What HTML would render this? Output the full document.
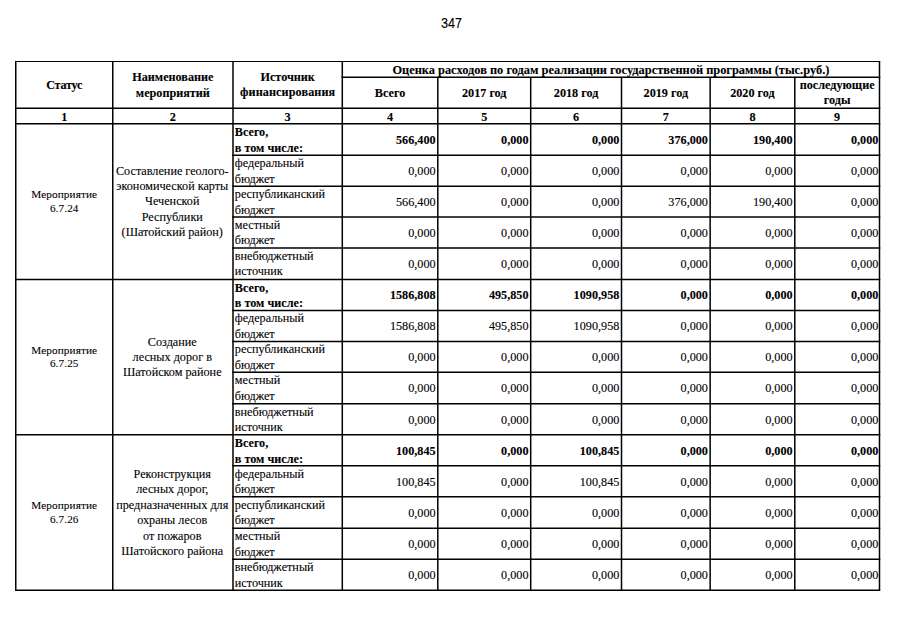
<!DOCTYPE html>
<html><head><meta charset="utf-8"><style>
html,body{margin:0;padding:0;background:#fff;}
body{width:905px;height:640px;position:relative;overflow:hidden;font-family:"Liberation Serif","Noto Serif CJK SC",serif;color:#000;-webkit-text-stroke:0.1px #000;}
svg{position:absolute;left:0;top:0;}
.t{position:absolute;white-space:nowrap;line-height:20px;height:20px;font-size:12.2px;}
.b{font-weight:bold;}
.ot{font-size:12.4px;}
.m{font-size:11.2px;letter-spacing:0.12px;}
.pn{position:absolute;left:441.2px;top:15.2px;font-family:"Liberation Sans",sans-serif;font-size:14px;line-height:16px;transform:scaleX(0.9);transform-origin:0 0;}
</style></head><body>
<div class="pn">347</div>
<svg width="905" height="640" viewBox="0 0 905 640"><g stroke="#000" stroke-width="1.5" fill="none">
<line x1="15.00" y1="61.50" x2="880.25" y2="61.50" stroke-width="1.1"/>
<line x1="341.55" y1="77.20" x2="880.25" y2="77.20"/>
<line x1="15.00" y1="108.20" x2="880.25" y2="108.20"/>
<line x1="15.00" y1="123.70" x2="880.25" y2="123.70"/>
<line x1="232.25" y1="155.20" x2="880.25" y2="155.20"/>
<line x1="232.25" y1="186.20" x2="880.25" y2="186.20"/>
<line x1="232.25" y1="217.00" x2="880.25" y2="217.00"/>
<line x1="232.25" y1="248.00" x2="880.25" y2="248.00"/>
<line x1="15.00" y1="279.50" x2="880.25" y2="279.50"/>
<line x1="232.25" y1="310.50" x2="880.25" y2="310.50"/>
<line x1="232.25" y1="341.50" x2="880.25" y2="341.50"/>
<line x1="232.25" y1="372.30" x2="880.25" y2="372.30"/>
<line x1="232.25" y1="403.80" x2="880.25" y2="403.80"/>
<line x1="15.00" y1="434.80" x2="880.25" y2="434.80"/>
<line x1="232.25" y1="465.80" x2="880.25" y2="465.80"/>
<line x1="232.25" y1="496.80" x2="880.25" y2="496.80"/>
<line x1="232.25" y1="528.25" x2="880.25" y2="528.25"/>
<line x1="232.25" y1="559.25" x2="880.25" y2="559.25"/>
<line x1="15.00" y1="590.25" x2="880.25" y2="590.25"/>
<line x1="15.75" y1="61.50" x2="15.75" y2="590.25"/>
<line x1="112.75" y1="61.50" x2="112.75" y2="590.25"/>
<line x1="233.00" y1="61.50" x2="233.00" y2="590.25"/>
<line x1="342.30" y1="61.50" x2="342.30" y2="590.25"/>
<line x1="437.80" y1="77.20" x2="437.80" y2="590.25"/>
<line x1="530.70" y1="77.20" x2="530.70" y2="590.25"/>
<line x1="621.50" y1="77.20" x2="621.50" y2="590.25"/>
<line x1="710.15" y1="77.20" x2="710.15" y2="590.25"/>
<line x1="794.80" y1="77.20" x2="794.80" y2="590.25"/>
<line x1="879.50" y1="61.50" x2="879.50" y2="590.25"/>
</g></svg>
<div class="t b" style="top:74.70px;left:15.75px;width:97.00px;text-align:center"><span style="letter-spacing:-0.25px">Статус</span></div>
<div class="t b" style="top:67.00px;left:112.75px;width:120.25px;text-align:center">Наименование</div>
<div class="t b" style="top:82.70px;left:112.75px;width:120.25px;text-align:center">мероприятий</div>
<div class="t b" style="top:66.75px;left:233.00px;width:109.30px;text-align:center">Источник</div>
<div class="t b" style="top:82.25px;left:233.00px;width:109.30px;text-align:center"><span style="letter-spacing:0.1px">финансирования</span></div>
<div class="t b ot" style="top:59.60px;left:342.30px;width:537.20px;text-align:center">Оценка расходов по годам реализации государственной программы (тыс.руб.)</div>
<div class="t b" style="top:82.80px;left:342.30px;width:95.50px;text-align:center">Всего</div>
<div class="t b" style="top:82.80px;left:437.80px;width:92.90px;text-align:center">2017 год</div>
<div class="t b" style="top:82.80px;left:530.70px;width:90.80px;text-align:center">2018 год</div>
<div class="t b" style="top:82.80px;left:621.50px;width:88.65px;text-align:center">2019 год</div>
<div class="t b" style="top:82.80px;left:710.15px;width:84.65px;text-align:center">2020 год</div>
<div class="t b" style="top:75.20px;left:794.80px;width:84.70px;text-align:center">последующие</div>
<div class="t b" style="top:90.30px;left:794.80px;width:84.70px;text-align:center">годы</div>
<div class="t b" style="top:106.60px;left:15.75px;width:97.00px;text-align:center">1</div>
<div class="t b" style="top:106.60px;left:112.75px;width:120.25px;text-align:center">2</div>
<div class="t b" style="top:106.60px;left:233.00px;width:109.30px;text-align:center">3</div>
<div class="t b" style="top:106.60px;left:342.30px;width:95.50px;text-align:center">4</div>
<div class="t b" style="top:106.60px;left:437.80px;width:92.90px;text-align:center">5</div>
<div class="t b" style="top:106.60px;left:530.70px;width:90.80px;text-align:center">6</div>
<div class="t b" style="top:106.60px;left:621.50px;width:88.65px;text-align:center">7</div>
<div class="t b" style="top:106.60px;left:710.15px;width:84.65px;text-align:center">8</div>
<div class="t b" style="top:106.60px;left:794.80px;width:84.70px;text-align:center">9</div>
<div class="t m" style="top:184.20px;left:15.75px;width:97.00px;text-align:center">Мероприятие</div>
<div class="t m" style="top:197.70px;left:15.75px;width:97.00px;text-align:center">6.7.24</div>
<div class="t r" style="top:160.84px;left:112.15px;width:120.25px;text-align:center">Составление геолого-</div>
<div class="t r" style="top:176.14px;left:112.15px;width:120.25px;text-align:center">экономической карты</div>
<div class="t r" style="top:191.44px;left:112.15px;width:120.25px;text-align:center">Чеченской</div>
<div class="t r" style="top:206.74px;left:112.15px;width:120.25px;text-align:center">Республики</div>
<div class="t r" style="top:222.04px;left:112.15px;width:120.25px;text-align:center">(Шатойский район)</div>
<div class="t b" style="top:122.00px;left:234.80px">Всего,</div>
<div class="t b" style="top:137.50px;left:234.80px">в том числе:</div>
<div class="t b" style="top:129.65px;right:469.40px;text-align:right">566,400</div>
<div class="t b" style="top:129.65px;right:376.50px;text-align:right">0,000</div>
<div class="t b" style="top:129.65px;right:285.70px;text-align:right">0,000</div>
<div class="t b" style="top:129.65px;right:197.05px;text-align:right">376,000</div>
<div class="t b" style="top:129.65px;right:112.40px;text-align:right">190,400</div>
<div class="t b" style="top:129.65px;right:26.70px;text-align:right">0,000</div>
<div class="t r" style="top:153.05px;left:234.80px">федеральный</div>
<div class="t r" style="top:168.55px;left:234.80px">бюджет</div>
<div class="t r" style="top:160.90px;right:469.40px;text-align:right">0,000</div>
<div class="t r" style="top:160.90px;right:376.50px;text-align:right">0,000</div>
<div class="t r" style="top:160.90px;right:285.70px;text-align:right">0,000</div>
<div class="t r" style="top:160.90px;right:197.05px;text-align:right">0,000</div>
<div class="t r" style="top:160.90px;right:112.40px;text-align:right">0,000</div>
<div class="t r" style="top:160.90px;right:26.70px;text-align:right">0,000</div>
<div class="t r" style="top:184.05px;left:234.80px">республиканский</div>
<div class="t r" style="top:199.55px;left:234.80px">бюджет</div>
<div class="t r" style="top:191.80px;right:469.40px;text-align:right">566,400</div>
<div class="t r" style="top:191.80px;right:376.50px;text-align:right">0,000</div>
<div class="t r" style="top:191.80px;right:285.70px;text-align:right">0,000</div>
<div class="t r" style="top:191.80px;right:197.05px;text-align:right">376,000</div>
<div class="t r" style="top:191.80px;right:112.40px;text-align:right">190,400</div>
<div class="t r" style="top:191.80px;right:26.70px;text-align:right">0,000</div>
<div class="t r" style="top:214.85px;left:234.80px">местный</div>
<div class="t r" style="top:230.35px;left:234.80px">бюджет</div>
<div class="t r" style="top:222.70px;right:469.40px;text-align:right">0,000</div>
<div class="t r" style="top:222.70px;right:376.50px;text-align:right">0,000</div>
<div class="t r" style="top:222.70px;right:285.70px;text-align:right">0,000</div>
<div class="t r" style="top:222.70px;right:197.05px;text-align:right">0,000</div>
<div class="t r" style="top:222.70px;right:112.40px;text-align:right">0,000</div>
<div class="t r" style="top:222.70px;right:26.70px;text-align:right">0,000</div>
<div class="t r" style="top:245.85px;left:234.80px">внебюджетный</div>
<div class="t r" style="top:261.35px;left:234.80px">источник</div>
<div class="t r" style="top:253.95px;right:469.40px;text-align:right">0,000</div>
<div class="t r" style="top:253.95px;right:376.50px;text-align:right">0,000</div>
<div class="t r" style="top:253.95px;right:285.70px;text-align:right">0,000</div>
<div class="t r" style="top:253.95px;right:197.05px;text-align:right">0,000</div>
<div class="t r" style="top:253.95px;right:112.40px;text-align:right">0,000</div>
<div class="t r" style="top:253.95px;right:26.70px;text-align:right">0,000</div>
<div class="t m" style="top:339.75px;left:15.75px;width:97.00px;text-align:center">Мероприятие</div>
<div class="t m" style="top:353.25px;left:15.75px;width:97.00px;text-align:center">6.7.25</div>
<div class="t r" style="top:331.55px;left:112.15px;width:120.25px;text-align:center">Создание</div>
<div class="t r" style="top:346.95px;left:112.15px;width:120.25px;text-align:center">лесных дорог в</div>
<div class="t r" style="top:362.35px;left:112.15px;width:120.25px;text-align:center">Шатойском районе</div>
<div class="t b" style="top:277.80px;left:234.80px">Всего,</div>
<div class="t b" style="top:293.30px;left:234.80px">в том числе:</div>
<div class="t b" style="top:285.20px;right:469.40px;text-align:right">1586,808</div>
<div class="t b" style="top:285.20px;right:376.50px;text-align:right">495,850</div>
<div class="t b" style="top:285.20px;right:285.70px;text-align:right">1090,958</div>
<div class="t b" style="top:285.20px;right:197.05px;text-align:right">0,000</div>
<div class="t b" style="top:285.20px;right:112.40px;text-align:right">0,000</div>
<div class="t b" style="top:285.20px;right:26.70px;text-align:right">0,000</div>
<div class="t r" style="top:308.35px;left:234.80px">федеральный</div>
<div class="t r" style="top:323.85px;left:234.80px">бюджет</div>
<div class="t r" style="top:316.20px;right:469.40px;text-align:right">1586,808</div>
<div class="t r" style="top:316.20px;right:376.50px;text-align:right">495,850</div>
<div class="t r" style="top:316.20px;right:285.70px;text-align:right">1090,958</div>
<div class="t r" style="top:316.20px;right:197.05px;text-align:right">0,000</div>
<div class="t r" style="top:316.20px;right:112.40px;text-align:right">0,000</div>
<div class="t r" style="top:316.20px;right:26.70px;text-align:right">0,000</div>
<div class="t r" style="top:339.35px;left:234.80px">республиканский</div>
<div class="t r" style="top:354.85px;left:234.80px">бюджет</div>
<div class="t r" style="top:347.10px;right:469.40px;text-align:right">0,000</div>
<div class="t r" style="top:347.10px;right:376.50px;text-align:right">0,000</div>
<div class="t r" style="top:347.10px;right:285.70px;text-align:right">0,000</div>
<div class="t r" style="top:347.10px;right:197.05px;text-align:right">0,000</div>
<div class="t r" style="top:347.10px;right:112.40px;text-align:right">0,000</div>
<div class="t r" style="top:347.10px;right:26.70px;text-align:right">0,000</div>
<div class="t r" style="top:370.15px;left:234.80px">местный</div>
<div class="t r" style="top:385.65px;left:234.80px">бюджет</div>
<div class="t r" style="top:378.25px;right:469.40px;text-align:right">0,000</div>
<div class="t r" style="top:378.25px;right:376.50px;text-align:right">0,000</div>
<div class="t r" style="top:378.25px;right:285.70px;text-align:right">0,000</div>
<div class="t r" style="top:378.25px;right:197.05px;text-align:right">0,000</div>
<div class="t r" style="top:378.25px;right:112.40px;text-align:right">0,000</div>
<div class="t r" style="top:378.25px;right:26.70px;text-align:right">0,000</div>
<div class="t r" style="top:401.65px;left:234.80px">внебюджетный</div>
<div class="t r" style="top:417.15px;left:234.80px">источник</div>
<div class="t r" style="top:409.50px;right:469.40px;text-align:right">0,000</div>
<div class="t r" style="top:409.50px;right:376.50px;text-align:right">0,000</div>
<div class="t r" style="top:409.50px;right:285.70px;text-align:right">0,000</div>
<div class="t r" style="top:409.50px;right:197.05px;text-align:right">0,000</div>
<div class="t r" style="top:409.50px;right:112.40px;text-align:right">0,000</div>
<div class="t r" style="top:409.50px;right:26.70px;text-align:right">0,000</div>
<div class="t m" style="top:495.12px;left:15.75px;width:97.00px;text-align:center">Мероприятие</div>
<div class="t m" style="top:508.62px;left:15.75px;width:97.00px;text-align:center">6.7.26</div>
<div class="t r" style="top:463.67px;left:112.15px;width:120.25px;text-align:center">Реконструкция</div>
<div class="t r" style="top:479.21px;left:112.15px;width:120.25px;text-align:center">лесных дорог,</div>
<div class="t r" style="top:494.75px;left:112.15px;width:120.25px;text-align:center">предназначенных для</div>
<div class="t r" style="top:510.29px;left:112.15px;width:120.25px;text-align:center">охраны лесов</div>
<div class="t r" style="top:525.83px;left:112.15px;width:120.25px;text-align:center">от пожаров</div>
<div class="t r" style="top:541.38px;left:112.15px;width:120.25px;text-align:center">Шатойского района</div>
<div class="t b" style="top:433.10px;left:234.80px">Всего,</div>
<div class="t b" style="top:448.60px;left:234.80px">в том числе:</div>
<div class="t b" style="top:440.50px;right:469.40px;text-align:right">100,845</div>
<div class="t b" style="top:440.50px;right:376.50px;text-align:right">0,000</div>
<div class="t b" style="top:440.50px;right:285.70px;text-align:right">100,845</div>
<div class="t b" style="top:440.50px;right:197.05px;text-align:right">0,000</div>
<div class="t b" style="top:440.50px;right:112.40px;text-align:right">0,000</div>
<div class="t b" style="top:440.50px;right:26.70px;text-align:right">0,000</div>
<div class="t r" style="top:463.65px;left:234.80px">федеральный</div>
<div class="t r" style="top:479.15px;left:234.80px">бюджет</div>
<div class="t r" style="top:471.50px;right:469.40px;text-align:right">100,845</div>
<div class="t r" style="top:471.50px;right:376.50px;text-align:right">0,000</div>
<div class="t r" style="top:471.50px;right:285.70px;text-align:right">100,845</div>
<div class="t r" style="top:471.50px;right:197.05px;text-align:right">0,000</div>
<div class="t r" style="top:471.50px;right:112.40px;text-align:right">0,000</div>
<div class="t r" style="top:471.50px;right:26.70px;text-align:right">0,000</div>
<div class="t r" style="top:494.65px;left:234.80px">республиканский</div>
<div class="t r" style="top:510.15px;left:234.80px">бюджет</div>
<div class="t r" style="top:502.73px;right:469.40px;text-align:right">0,000</div>
<div class="t r" style="top:502.73px;right:376.50px;text-align:right">0,000</div>
<div class="t r" style="top:502.73px;right:285.70px;text-align:right">0,000</div>
<div class="t r" style="top:502.73px;right:197.05px;text-align:right">0,000</div>
<div class="t r" style="top:502.73px;right:112.40px;text-align:right">0,000</div>
<div class="t r" style="top:502.73px;right:26.70px;text-align:right">0,000</div>
<div class="t r" style="top:526.10px;left:234.80px">местный</div>
<div class="t r" style="top:541.60px;left:234.80px">бюджет</div>
<div class="t r" style="top:533.95px;right:469.40px;text-align:right">0,000</div>
<div class="t r" style="top:533.95px;right:376.50px;text-align:right">0,000</div>
<div class="t r" style="top:533.95px;right:285.70px;text-align:right">0,000</div>
<div class="t r" style="top:533.95px;right:197.05px;text-align:right">0,000</div>
<div class="t r" style="top:533.95px;right:112.40px;text-align:right">0,000</div>
<div class="t r" style="top:533.95px;right:26.70px;text-align:right">0,000</div>
<div class="t r" style="top:557.10px;left:234.80px">внебюджетный</div>
<div class="t r" style="top:572.60px;left:234.80px">источник</div>
<div class="t r" style="top:564.95px;right:469.40px;text-align:right">0,000</div>
<div class="t r" style="top:564.95px;right:376.50px;text-align:right">0,000</div>
<div class="t r" style="top:564.95px;right:285.70px;text-align:right">0,000</div>
<div class="t r" style="top:564.95px;right:197.05px;text-align:right">0,000</div>
<div class="t r" style="top:564.95px;right:112.40px;text-align:right">0,000</div>
<div class="t r" style="top:564.95px;right:26.70px;text-align:right">0,000</div>
</body></html>
